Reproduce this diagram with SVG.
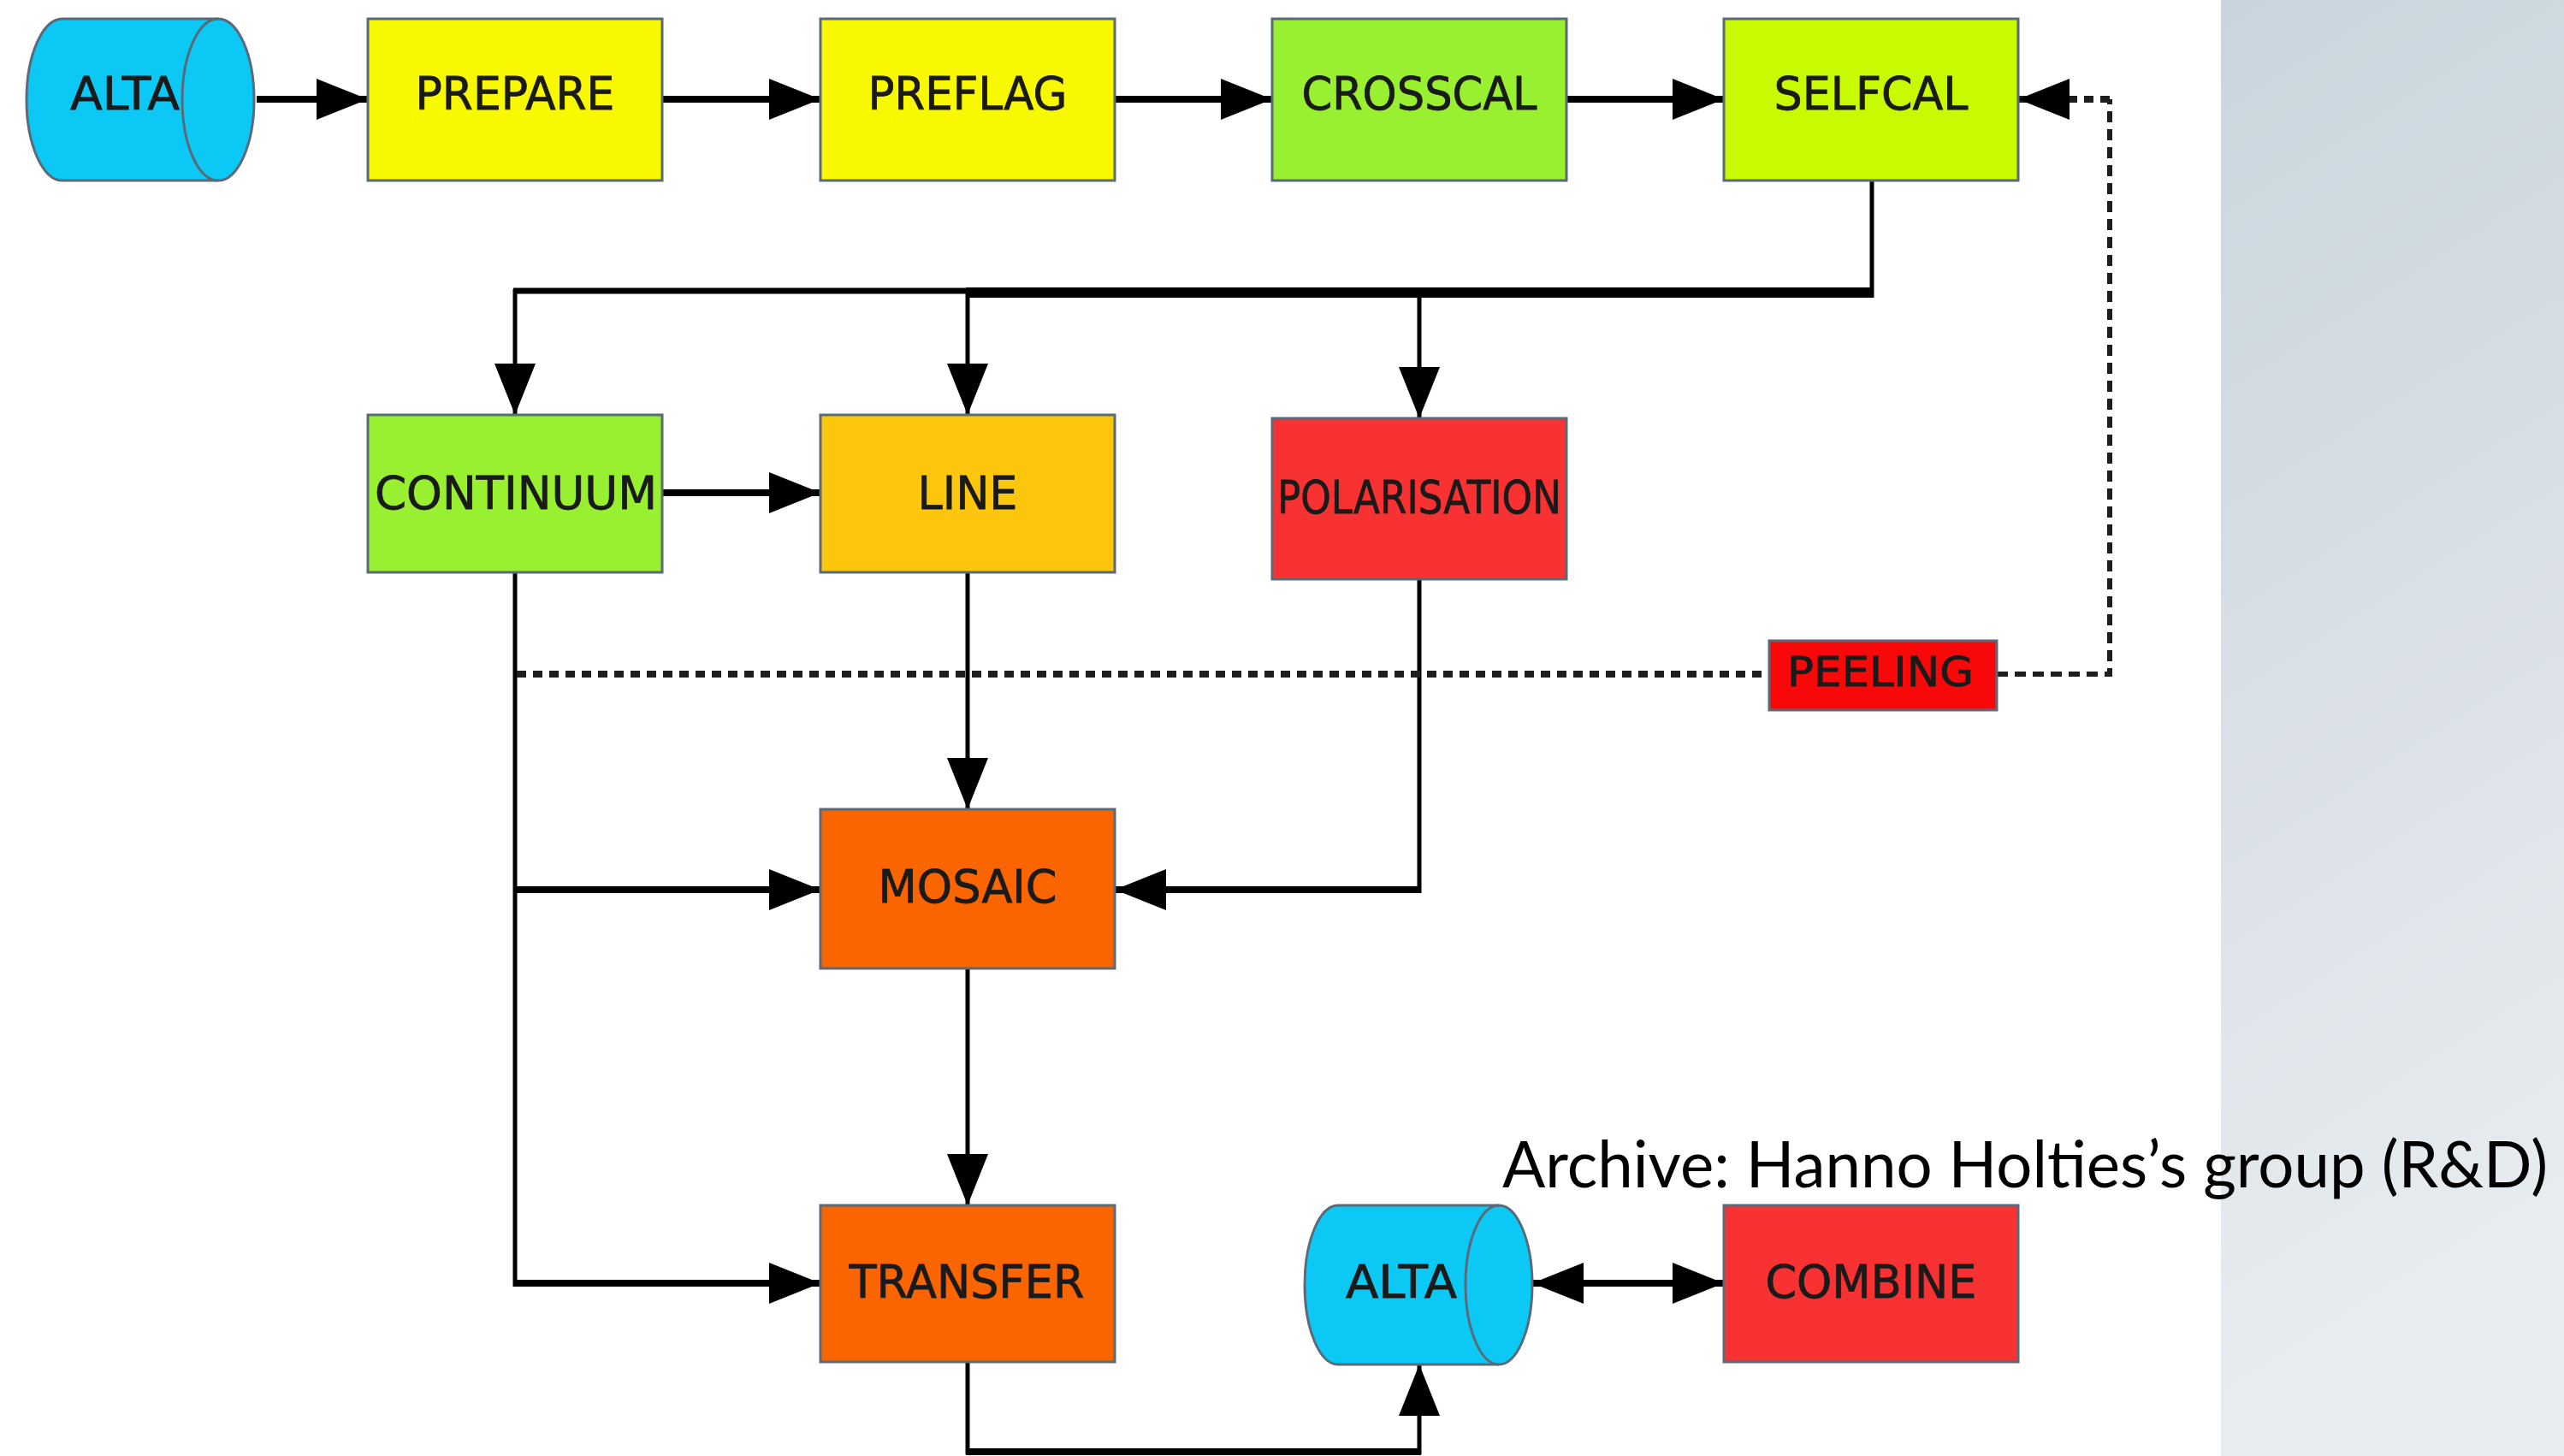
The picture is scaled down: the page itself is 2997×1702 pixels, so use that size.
<svg xmlns="http://www.w3.org/2000/svg" width="2997" height="1702" viewBox="0 0 2997 1702">
<defs>
<linearGradient id="panel" x1="0" y1="0" x2="0.15" y2="1">
<stop offset="0" stop-color="#c9d5dd"/>
<stop offset="0.5" stop-color="#d9e0e6"/>
<stop offset="1" stop-color="#e9edf0"/>
</linearGradient>
<marker id="ah" markerUnits="userSpaceOnUse" markerWidth="62" markerHeight="48" refX="60" refY="24" orient="auto">
<path d="M0,0 L60,24 L0,48 Z" fill="#000"/>
</marker>
<marker id="ahs" markerUnits="userSpaceOnUse" markerWidth="62" markerHeight="48" refX="0" refY="24" orient="auto">
<path d="M60,0 L0,24 L60,48 Z" fill="#000"/>
</marker>
<style>
.box{stroke:#5a6a78;stroke-width:3}
.lbl{font-family:"DejaVu Sans","Liberation Sans",sans-serif;font-size:54px;fill:#1a1a1a;text-anchor:middle;stroke:#1a1a1a;stroke-width:0.8}
.h{stroke:#000;stroke-width:8;fill:none}
.v{stroke:#000;stroke-width:5;fill:none}
.dh{stroke:#1e1e1e;stroke-width:8;fill:none;stroke-dasharray:11 8}
.dv{stroke:#1e1e1e;stroke-width:6;fill:none;stroke-dasharray:13 8}
.cap{font-family:"Lato","Liberation Sans",sans-serif;font-size:76px;fill:#000}
</style>
</defs>
<rect x="0" y="0" width="2997" height="1702" fill="#ffffff"/>
<rect x="2596" y="0" width="401" height="1702" fill="url(#panel)"/>

<g id="connectors">
<line class="h" x1="300" y1="116" x2="430" y2="116" marker-end="url(#ah)"/>
<line class="h" x1="774" y1="116" x2="959" y2="116" marker-end="url(#ah)"/>
<line class="h" x1="1303" y1="116" x2="1487" y2="116" marker-end="url(#ah)"/>
<line class="h" x1="1831" y1="116" x2="2015" y2="116" marker-end="url(#ah)"/>
<line class="v" x1="2188" y1="210" x2="2188" y2="348"/>
<line stroke="#000" stroke-width="12" x1="1129" y1="342" x2="2190" y2="342"/>
<line stroke="#000" stroke-width="7" x1="600" y1="340" x2="1131" y2="340"/>
<line class="v" x1="602" y1="338" x2="602" y2="485" marker-end="url(#ah)"/>
<line class="v" x1="1131" y1="338" x2="1131" y2="485" marker-end="url(#ah)"/>
<line class="v" x1="1659" y1="338" x2="1659" y2="489" marker-end="url(#ah)"/>
<line class="h" x1="774" y1="576" x2="959" y2="576" marker-end="url(#ah)"/>
<line class="v" x1="1131" y1="669" x2="1131" y2="946" marker-end="url(#ah)"/>
<line class="v" x1="1659" y1="677" x2="1659" y2="1044"/>
<line class="h" x1="1661" y1="1040" x2="1303" y2="1040" marker-end="url(#ah)"/>
<line class="v" x1="602" y1="669" x2="602" y2="1504"/>
<line class="h" x1="600" y1="1040" x2="959" y2="1040" marker-end="url(#ah)"/>
<line class="h" x1="600" y1="1500" x2="959" y2="1500" marker-end="url(#ah)"/>
<line class="v" x1="1131" y1="1132" x2="1131" y2="1409" marker-end="url(#ah)"/>
<line class="v" x1="1131" y1="1592" x2="1131" y2="1700"/>
<line class="h" x1="1129" y1="1697" x2="1661" y2="1697"/>
<line class="v" x1="1659" y1="1700" x2="1659" y2="1595" marker-end="url(#ah)"/>
<line class="h" x1="1791" y1="1500" x2="2015" y2="1500" marker-start="url(#ahs)" marker-end="url(#ah)"/>
<line class="dh" x1="604" y1="788" x2="2068" y2="788"/>
<polyline class="dv" points="2334,788 2466,788 2466,116"/>
<line class="dh" x1="2466" y1="116" x2="2359" y2="116" marker-end="url(#ah)"/>
</g>

<g id="alta-top">
<path class="box" fill="#0cc8f4" d="M73,22 H255 A42,94.5 0 0 1 255,211 H73 A42,94.5 0 0 1 73,22 Z"/>
<path class="box" fill="none" d="M255,22 A42,94.5 0 0 0 255,211"/>
<text class="lbl" x="146" y="128" textLength="128" lengthAdjust="spacingAndGlyphs">ALTA</text>
</g>
<g id="prepare">
<rect class="box" x="430" y="22" width="344" height="189" fill="#f8f800"/>
<text class="lbl" x="602" y="128" textLength="233" lengthAdjust="spacingAndGlyphs">PREPARE</text>
</g>
<g id="preflag">
<rect class="box" x="959" y="22" width="344" height="189" fill="#f8f800"/>
<text class="lbl" x="1131" y="128" textLength="233" lengthAdjust="spacingAndGlyphs">PREFLAG</text>
</g>
<g id="crosscal">
<rect class="box" x="1487" y="22" width="344" height="189" fill="#98f030"/>
<text class="lbl" x="1659" y="128" textLength="275" lengthAdjust="spacingAndGlyphs">CROSSCAL</text>
</g>
<g id="selfcal">
<rect class="box" x="2015" y="22" width="344" height="189" fill="#c8fa02"/>
<text class="lbl" x="2187" y="128" textLength="227" lengthAdjust="spacingAndGlyphs">SELFCAL</text>
</g>
<g id="continuum">
<rect class="box" x="430" y="485" width="344" height="184" fill="#98f030"/>
<text class="lbl" x="603" y="595" textLength="330" lengthAdjust="spacingAndGlyphs">CONTINUUM</text>
</g>
<g id="line">
<rect class="box" x="959" y="485" width="344" height="184" fill="#fcc60c"/>
<text class="lbl" x="1131" y="595" textLength="117" lengthAdjust="spacingAndGlyphs">LINE</text>
</g>
<g id="polarisation">
<rect class="box" x="1487" y="489" width="344" height="188" fill="#f83232"/>
<text class="lbl" x="1659" y="600" textLength="332" lengthAdjust="spacingAndGlyphs">POLARISATION</text>
</g>
<g id="peeling">
<rect class="box" x="2068" y="749" width="266" height="81" fill="#f80808"/>
<text class="lbl" x="2198" y="802" style="font-size:48px" textLength="218" lengthAdjust="spacingAndGlyphs">PEELING</text>
</g>
<g id="mosaic">
<rect class="box" x="959" y="946" width="344" height="186" fill="#fa6500"/>
<text class="lbl" x="1131" y="1055" textLength="209" lengthAdjust="spacingAndGlyphs">MOSAIC</text>
</g>
<g id="transfer">
<rect class="box" x="959" y="1409" width="344" height="183" fill="#fa6500"/>
<text class="lbl" x="1130" y="1517" textLength="275" lengthAdjust="spacingAndGlyphs">TRANSFER</text>
</g>
<g id="alta-bottom">
<path class="box" fill="#0cc8f4" d="M1564,1409 H1752 A39,93 0 0 1 1752,1595 H1564 A39,93 0 0 1 1564,1409 Z"/>
<path class="box" fill="none" d="M1752,1409 A39,93 0 0 0 1752,1595"/>
<text class="lbl" x="1638" y="1517" textLength="130" lengthAdjust="spacingAndGlyphs">ALTA</text>
</g>
<g id="combine">
<rect class="box" x="2015" y="1409" width="344" height="183" fill="#f83232"/>
<text class="lbl" x="2187" y="1517" textLength="247" lengthAdjust="spacingAndGlyphs">COMBINE</text>
</g>
<text class="cap" x="1756" y="1388" textLength="1222" lengthAdjust="spacingAndGlyphs">Archive: Hanno Holties’s group (R&amp;D)</text>
</svg>
